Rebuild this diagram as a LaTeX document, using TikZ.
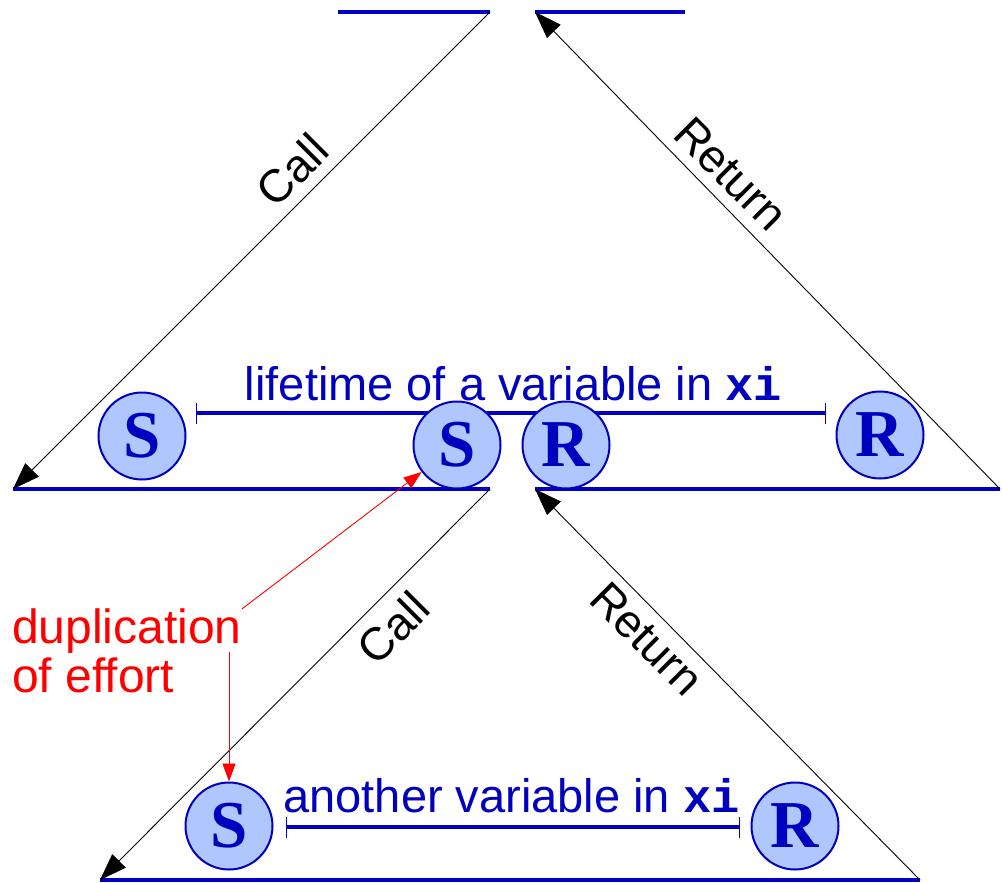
\documentclass[tikz,border=0pt]{standalone}
\usepackage{fontspec}
\setmainfont{Liberation Sans}
\setmonofont{Liberation Mono}
\newfontfamily\circfont{Liberation Serif}
\usetikzlibrary{arrows.meta}
\definecolor{dblue}{RGB}{0,0,190}
\definecolor{lblue}{RGB}{176,198,255}
\begin{document}
\begin{tikzpicture}[x=1pt,y=-1pt,
  level/.style={draw=dblue, line width=4.5pt},
  flow/.style={draw=black, line width=0.9pt, -{Triangle[length=27pt,width=19pt]}},
  lbl/.style={font=\fontsize{46}{48}\selectfont, inner sep=0pt},
  life/.style={draw=dblue, line width=3.5pt, {Bar[width=21pt,line width=1.2pt]}-{Bar[width=21pt,line width=1.2pt]}},
  lifetxt/.style={text=dblue, font=\fontsize{47}{49}\selectfont, inner sep=0pt, anchor=base},
  sr/.style={circle, draw=dblue, fill=lblue, line width=2pt, minimum size=87pt, inner sep=0pt, text=dblue, font=\circfont\bfseries\fontsize{67}{67}\selectfont},
  note/.style={text=red, font=\fontsize{48}{49}\selectfont, inner sep=0pt, align=left, anchor=north west},
  noteflow/.style={draw=red, line width=0.9pt, -{Triangle[length=18pt,width=13pt]}}
]
\useasboundingbox (0,0) rectangle (1002,883);
% level coordinates
\coordinate (ta) at (338,12);
\coordinate (tb) at (490,12);
\coordinate (tc) at (535,12);
\coordinate (td) at (685,12);
\coordinate (ma) at (13,489);
\coordinate (mb) at (490,489);
\coordinate (mc) at (535,489);
\coordinate (md) at (1000,489);
\coordinate (ba) at (100,880);
\coordinate (bb) at (920,880);
% levels
\draw[level] (ta) -- (tb);
\draw[level] (tc) -- (td);
\draw[level] (ma) -- (mb);
\draw[level] (mc) -- (md);
\draw[level] (ba) -- (bb);
% calls and returns
\draw[flow] (tb) -- (ma);
\draw[flow] (md) -- (tc);
\draw[flow] (mb) -- (ba);
\draw[flow] (bb) -- (mc);
\node[lbl, rotate=45] (callA) at (292,170) {Call};
\node[lbl, rotate=-45] (retA) at (731,174) {Return};
\node[lbl, rotate=45] (callB) at (393,628) {Call};
\node[lbl, rotate=-45] (retB) at (647,639) {Return};
% lifetime lines
\coordinate (la) at (196,413);
\coordinate (lb) at (826,413);
\coordinate (lc) at (286,827);
\coordinate (ld) at (740,827);
\draw[life] (la) -- (lb);
\draw[life] (lc) -- (ld);
\node[lifetxt] (lifeA) at (513.5,400) {lifetime of a variable in \texttt{\textbf{xi}}};
\node[lifetxt] (lifeB) at (511.5,812) {another variable in \texttt{\textbf{xi}}};
% circles
\node[sr] (S1) at (142,436) {S};
\node[sr] (S2) at (457,445) {S};
\node[sr] (R2) at (566,445) {R};
\node[sr] (R1) at (880,435) {R};
\node[sr] (S3) at (229,826) {S};
\node[sr] (R3) at (795,826) {R};
% note
\node[note] (dup) at (12,609) {duplication\\of effort};
\coordinate (r2) at (229,652);
\draw[noteflow] (dup.north east) -- (S2);
\draw[noteflow] (r2) -- (S3);
\end{tikzpicture}
\end{document}
